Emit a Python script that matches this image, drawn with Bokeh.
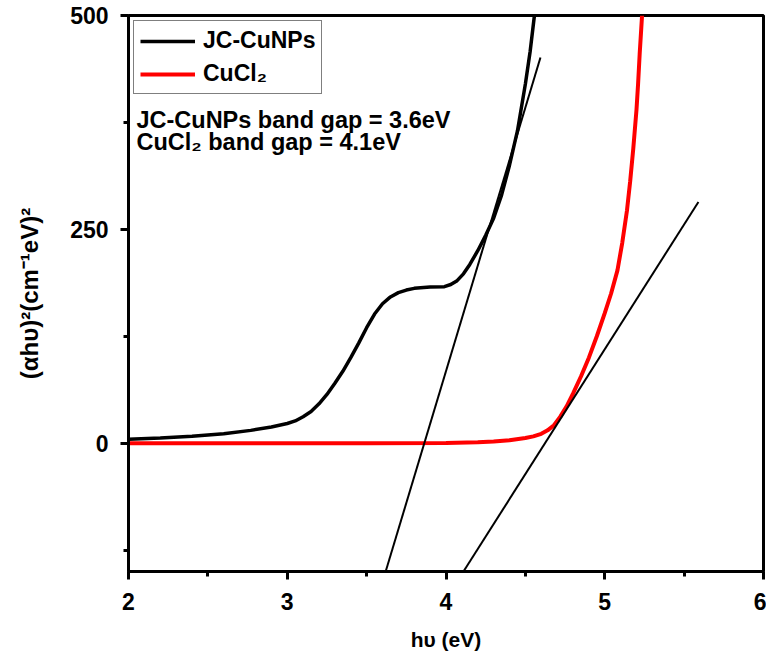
from bokeh.plotting import figure
from bokeh.models import FixedTicker, Range1d, Legend, LegendItem, Label
from bokeh.embed import file_html
from bokeh.resources import INLINE

# ---- data ----
jc_x = [2.0, 2.2, 2.4, 2.6, 2.77, 2.9, 3.0, 3.05, 3.1, 3.15, 3.2, 3.25, 3.3, 3.35, 3.4,
        3.45, 3.5, 3.55, 3.6, 3.65, 3.7, 3.75, 3.8, 3.9, 3.99, 4.03, 4.07, 4.11, 4.15,
        4.2, 4.25, 4.3, 4.35, 4.4, 4.45, 4.5, 4.53, 4.557]
jc_y = [4.5, 6, 8, 11, 15, 19, 23, 26, 31, 37, 46, 57, 70, 84, 100,
        117, 135, 151, 163, 171, 176, 179, 181, 182.5, 183, 185.5, 190, 198, 209,
        225, 243, 263, 290, 325, 365, 420, 458, 500]

cu_x = [2.0, 2.5, 3.0, 3.5, 4.0, 4.2, 4.3, 4.4, 4.5, 4.55, 4.6, 4.64, 4.68, 4.72, 4.76,
        4.8, 4.85, 4.9, 4.95, 5.0, 5.04, 5.08, 5.11, 5.14, 5.16, 5.18, 5.2, 5.21, 5.22,
        5.23, 5.235]
cu_y = [0, 0, 0, 0, 0.3, 1, 2, 3.5, 6, 8, 11, 15, 21, 31, 43,
        58, 78, 100, 125, 152, 175, 202, 234, 272, 306, 345, 390, 420, 455,
        485, 500]

tan1_x = [3.62, 4.595]
tan1_y = [-150, 451]
tan2_x = [4.11, 5.59]
tan2_y = [-150, 282]

x_ticks = [2, 3, 4, 5, 6]
x_minor = [2.5, 3.5, 4.5, 5.5]
y_ticks = [0, 250, 500]
y_minor = [-125, 125, 375]

FONT = "Liberation Sans"

p = figure(width=766, height=660, output_backend="svg", toolbar_location=None,
           x_range=Range1d(2, 6), y_range=Range1d(-150, 500),
           min_border_left=128, min_border_right=3, min_border_top=15, min_border_bottom=89)
p.grid.visible = False
p.outline_line_color = "black"
p.outline_line_width = 3
p.outline_line_alpha = 1.0

p.xaxis.ticker = FixedTicker(ticks=x_ticks, minor_ticks=x_minor)
p.yaxis.ticker = FixedTicker(ticks=y_ticks, minor_ticks=y_minor)

for ax in (p.xaxis[0], p.yaxis[0]):
    ax.axis_line_width = 3
    ax.axis_line_color = "black"
    ax.major_tick_line_width = 3
    ax.major_tick_line_color = "black"
    ax.major_tick_out = 8
    ax.major_tick_in = 0
    ax.minor_tick_line_width = 3
    ax.minor_tick_line_color = "black"
    ax.minor_tick_out = 5
    ax.minor_tick_in = 0
    ax.major_label_text_font = FONT
    ax.major_label_text_font_style = "bold"
    ax.major_label_text_font_size = "23px"
    ax.major_label_text_color = "black"
    ax.axis_label_text_font = FONT
    ax.axis_label_text_font_style = "bold"
    ax.axis_label_text_color = "black"

p.xaxis.axis_label = "hυ (eV)"
p.yaxis.axis_label = "(αhυ)²(cm⁻¹eV)²"
p.xaxis.axis_label_text_font_size = "21px"
p.yaxis.axis_label_text_font_size = "24px"
p.xaxis.major_label_standoff = 13
p.xaxis.axis_label_standoff = 15
p.yaxis.major_label_standoff = 12
p.yaxis.axis_label_standoff = 24

r_jc = p.line(jc_x, jc_y, line_color="black", line_width=3.5)
r_cu = p.line(cu_x, cu_y, line_color="#ff0000", line_width=4)
p.line(tan1_x, tan1_y, line_color="black", line_width=2)
p.line(tan2_x, tan2_y, line_color="black", line_width=2)

legend = Legend(items=[LegendItem(label="JC-CuNPs", renderers=[r_jc]),
                       LegendItem(label="CuCl₂", renderers=[r_cu])],
                location="top_left")
legend.margin = 5
legend.padding = 6
legend.spacing = 6
legend.glyph_width = 55
legend.glyph_height = 24
legend.label_height = 24
legend.label_standoff = 8
legend.label_text_font = FONT
legend.label_text_font_style = "bold"
legend.label_text_font_size = "23px"
legend.label_text_color = "black"
legend.border_line_color = "black"
legend.border_line_width = 1.5
legend.background_fill_alpha = 1.0
p.add_layout(legend)

p.add_layout(Label(x=2.05, y=378, text="JC-CuNPs band gap = 3.6eV", text_font=FONT,
                   text_font_style="bold", text_font_size="23.5px", text_color="black",
                   text_baseline="alphabetic"))
p.add_layout(Label(x=2.05, y=352, text="CuCl₂ band gap = 4.1eV", text_font=FONT,
                   text_font_style="bold", text_font_size="23.5px", text_color="black",
                   text_baseline="alphabetic"))

open("out.html", "w").write(file_html(p, INLINE))
